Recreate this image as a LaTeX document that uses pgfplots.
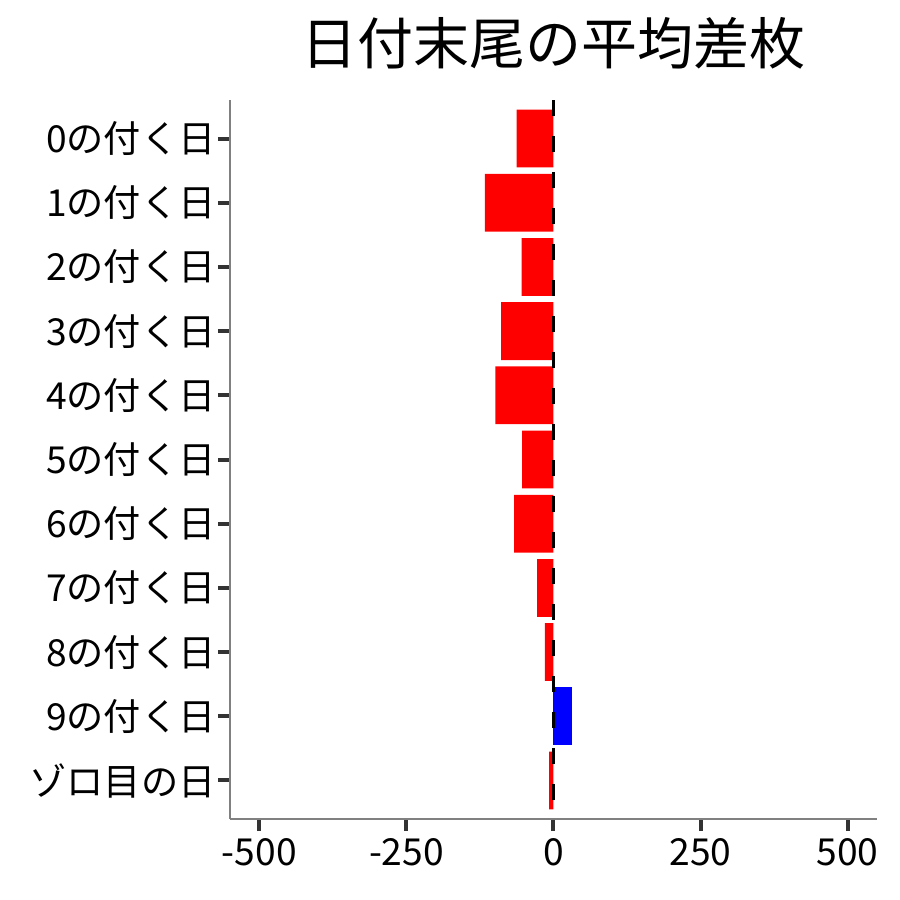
\documentclass[border=0pt]{standalone}
\usepackage{pgfplots}
\pgfplotsset{compat=1.18}
\usepackage{fontspec}
\setmainfont{Noto Sans CJK JP}

\begin{document}
\begin{tikzpicture}
\useasboundingbox (-115pt,-40.5pt) rectangle (335pt,409.5pt);
\begin{axis}[
    scale only axis,
    width=323.5pt, height=359.5pt,
    xmin=-550, xmax=550,
    ymin=-0.6, ymax=10.6,
    y dir=reverse,
    axis x line*=bottom,
    axis y line*=left,
    axis line style={-, draw=black!50, line width=0.8pt},
    tick align=outside,
    major tick length=6pt,
    tick style={draw=black!80, line width=2pt},
    xtick={-500,-250,0,250,500},
    xticklabels={-500,-250,0,250,500},
    ytick={0,1,2,3,4,5,6,7,8,9,10},
    yticklabels={0の付く日,1の付く日,2の付く日,3の付く日,4の付く日,5の付く日,6の付く日,7の付く日,8の付く日,9の付く日,ゾロ目の日},
    tick label style={font=\fontsize{18.6}{18.6}\selectfont, text=black},
    yticklabel style={inner sep=1pt},
    title={日付末尾の平均差枚},
    title style={font=\fontsize{28}{30}\selectfont, yshift=6pt},
]

\addplot[xbar, bar width=0.9, bar shift=0pt, fill=red, draw=none]
    coordinates {
    (-62.5,0) (-116.5,1) (-54,2) (-89,3) (-99,4) (-53.5,5)
    (-67,6) (-28,7) (-14.5,8) (-7.5,10)
    };

\addplot[xbar, bar width=0.9, bar shift=0pt, fill=blue, draw=none]
    coordinates {(31,9)};

\addplot[black, line width=1.9pt, dash pattern=on 8pt off 10pt]
    coordinates {(0,-0.6) (0,10.6)};

\end{axis}
\end{tikzpicture}
\end{document}
